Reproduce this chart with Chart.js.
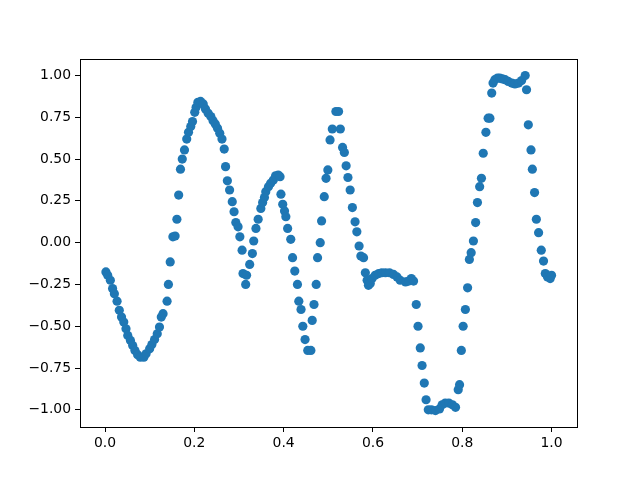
<!DOCTYPE html>
<html>
<head>
<meta charset="utf-8">
<script src="https://cdn.jsdelivr.net/npm/chart.js@4"></script>
<style>
  html, body { margin: 0; padding: 0; background: #fff; }
  #wrap { width: 640px; height: 480px; }
</style>
</head>
<body>
<div id="wrap"><canvas id="scatterChart" width="640" height="480"></canvas></div>
<script>
// values
const xValues = [
  0.002, 0.006, 0.012, 0.017, 0.021, 0.027, 0.032, 0.037, 0.042, 0.047,
  0.051, 0.057, 0.062, 0.067, 0.073, 0.079, 0.087, 0.092, 0.100, 0.105,
  0.111, 0.117, 0.122, 0.126, 0.130, 0.139, 0.142, 0.146, 0.152, 0.157,
  0.161, 0.165, 0.169, 0.173, 0.178, 0.183, 0.187, 0.192, 0.196, 0.201,
  0.204, 0.208, 0.214, 0.220, 0.225, 0.231, 0.237, 0.242, 0.247, 0.252,
  0.257, 0.262, 0.267, 0.270, 0.274, 0.279, 0.285, 0.289, 0.293, 0.298,
  0.302, 0.307, 0.309, 0.315, 0.317, 0.324, 0.330, 0.333, 0.338, 0.343,
  0.349, 0.353, 0.357, 0.360, 0.366, 0.371, 0.377, 0.382, 0.388, 0.392,
  0.394, 0.398, 0.402, 0.405, 0.409, 0.416, 0.420, 0.425, 0.431, 0.434,
  0.439, 0.443, 0.448, 0.454, 0.461, 0.464, 0.468, 0.473, 0.476, 0.482,
  0.485, 0.491, 0.495, 0.499, 0.504, 0.509, 0.517, 0.523, 0.527, 0.532,
  0.536, 0.540, 0.544, 0.549, 0.554, 0.560, 0.564, 0.569, 0.573, 0.579,
  0.583, 0.587, 0.590, 0.594, 0.598, 0.605, 0.613, 0.620, 0.628, 0.637,
  0.646, 0.654, 0.661, 0.673, 0.680, 0.686, 0.691, 0.697, 0.701, 0.706,
  0.710, 0.715, 0.719, 0.724, 0.731, 0.740, 0.749, 0.755, 0.762, 0.770,
  0.778, 0.785, 0.791, 0.794, 0.798, 0.802, 0.807, 0.812, 0.816, 0.820,
  0.825, 0.830, 0.834, 0.839, 0.843, 0.847, 0.853, 0.858, 0.862, 0.866,
  0.869, 0.873, 0.879, 0.884, 0.890, 0.896, 0.903, 0.911, 0.918, 0.926,
  0.933, 0.941, 0.944, 0.948, 0.954, 0.957, 0.962, 0.966, 0.971, 0.977,
  0.982, 0.986, 0.991, 0.997, 1.000
];
const yValues = [
  -0.175, -0.195, -0.225, -0.275, -0.305, -0.350, -0.405, -0.445, -0.475, -0.515,
  -0.555, -0.585, -0.615, -0.645, -0.670, -0.685, -0.685, -0.665, -0.635, -0.610,
  -0.580, -0.545, -0.505, -0.445, -0.425, -0.350, -0.250, -0.115, 0.035, 0.040,
  0.140, 0.285, 0.440, 0.500, 0.555, 0.620, 0.660, 0.695, 0.725, 0.780,
  0.810, 0.840, 0.845, 0.830, 0.800, 0.775, 0.755, 0.730, 0.710, 0.685,
  0.655, 0.620, 0.560, 0.455, 0.370, 0.315, 0.245, 0.185, 0.120, 0.095,
  0.035, -0.045, -0.185, -0.250, -0.195, -0.130, -0.065, 0.010, 0.085, 0.140,
  0.205, 0.240, 0.270, 0.305, 0.335, 0.355, 0.375, 0.400, 0.405, 0.395,
  0.290, 0.230, 0.190, 0.155, 0.085, 0.020, -0.090, -0.170, -0.250, -0.350,
  -0.400, -0.500, -0.580, -0.645, -0.645, -0.465, -0.370, -0.250, -0.090, 0.000,
  0.130, 0.275, 0.385, 0.435, 0.615, 0.680, 0.785, 0.785, 0.680, 0.570,
  0.540, 0.460, 0.390, 0.315, 0.210, 0.125, 0.065, -0.020, -0.080, -0.090,
  -0.180, -0.225, -0.255, -0.245, -0.215, -0.195, -0.185, -0.180, -0.180, -0.180,
  -0.190, -0.205, -0.225, -0.235, -0.230, -0.215, -0.230, -0.370, -0.500, -0.630,
  -0.735, -0.840, -0.940, -1.000, -1.000, -1.005, -0.995, -0.970, -0.960, -0.960,
  -0.970, -0.985, -0.880, -0.850, -0.645, -0.500, -0.400, -0.270, -0.100, -0.060,
  0.010, 0.120, 0.240, 0.335, 0.385, 0.535, 0.660, 0.745, 0.745, 0.895,
  0.955, 0.975, 0.985, 0.985, 0.980, 0.975, 0.965, 0.955, 0.950, 0.955,
  0.970, 1.000, 0.915, 0.705, 0.555, 0.440, 0.300, 0.140, 0.060, -0.045,
  -0.110, -0.185, -0.205, -0.215, -0.195
];
const xTicks = [0.0, 0.2, 0.4, 0.6, 0.8, 1.0];
const yTicks = [-1.0, -0.75, -0.5, -0.25, 0.0, 0.25, 0.5, 0.75, 1.0];

const points = xValues.map((x, i) => ({ x: x, y: yValues[i] }));

// frame round the plot area, like matplotlib's spines
const frame = {
    id: "frame",
    afterDraw(chart) {
        const a = chart.chartArea;
        const ctx = chart.ctx;
        ctx.save();
        ctx.strokeStyle = "#000";
        ctx.lineWidth = 1;
        ctx.strokeRect(Math.round(a.left) + 0.5, Math.round(a.top) + 0.5,
            Math.round(a.right - a.left), Math.round(a.bottom - a.top));
        ctx.restore();
    }
};

const fontSpec = { family: "DejaVu Sans", size: 13.9 };

new Chart(document.getElementById("scatterChart").getContext("2d"), {
    type: "scatter",
    data: {
        datasets: [{
            data: points,
            backgroundColor: "#1f77b4",
            borderWidth: 0,
            pointRadius: 4.6,
            pointHoverRadius: 4.6
        }]
    },
    options: {
        responsive: false,
        animation: false,
        layout: { padding: { top: 59, right: 63, left: 0, bottom: 0 } },
        plugins: {
            legend: { display: false },
            tooltip: { enabled: false }
        },
        scales: {
            x: {
                type: "linear",
                min: -0.056,
                max: 1.057,
                afterBuildTicks: (s) => { s.ticks = xTicks.map(v => ({ value: v })); },
                afterFit: (s) => { s.height = 53; },
                grid: { drawOnChartArea: false, drawTicks: true, tickLength: 5, color: "#000" },
                border: { display: false },
                ticks: {
                    color: "#000",
                    font: fontSpec,
                    padding: 3,
                    maxRotation: 0,
                    autoSkip: false,
                    callback: (v) => v.toFixed(1)
                }
            },
            y: {
                type: "linear",
                min: -1.103,
                max: 1.099,
                afterBuildTicks: (s) => { s.ticks = yTicks.map(v => ({ value: v })); },
                afterFit: (s) => { s.width = 80; },
                grid: { drawOnChartArea: false, drawTicks: true, tickLength: 5, color: "#000" },
                border: { display: false },
                ticks: {
                    color: "#000",
                    font: fontSpec,
                    padding: 4,
                    autoSkip: false,
                    callback: (v) => (v < 0 ? "\u2212" : "") + Math.abs(v).toFixed(2)
                }
            }
        }
    },
    plugins: [frame]
});
</script>
</body>
</html>
